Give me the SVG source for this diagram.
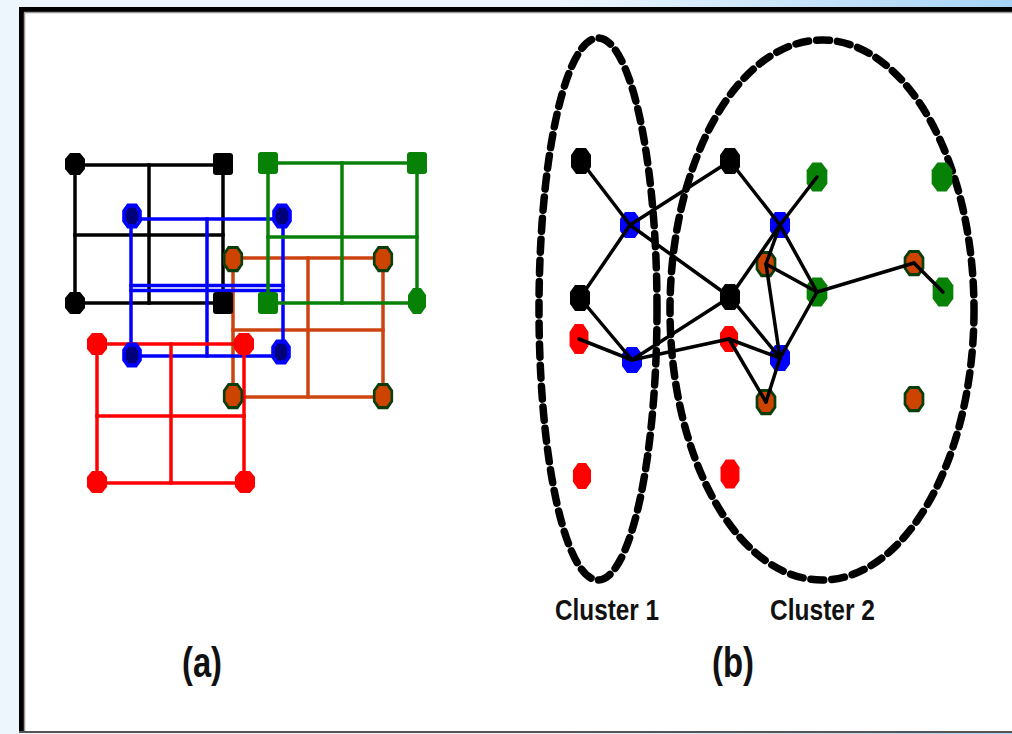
<svg xmlns="http://www.w3.org/2000/svg" xmlns:xlink="http://www.w3.org/1999/xlink" width="1012" height="734" viewBox="0 0 1012 734">
<defs>
<linearGradient id="bg" x1="0" y1="0" x2="1" y2="0">
<stop offset="0" stop-color="#eef6fd"/>
<stop offset="0.55" stop-color="#eef6fd"/>
<stop offset="1" stop-color="#a6d3f5"/>
</linearGradient>
<polygon id="octA" points="-5,-11 5,-11 10,-5 10,5 5,11 -5,11 -10,5 -10,-5"/>
<rect id="sqA" x="-10" y="-11" width="20" height="22" rx="3"/>
<polygon id="octT" points="-4,-13 4,-13 9,-6 9,6 4,13 -4,13 -9,6 -9,-6"/>
<polygon id="octB" points="-5,-13 5,-13 10,-6 10,6 5,13 -5,13 -10,6 -10,-6"/>
<style>
.g line{stroke-width:3.5;stroke-linecap:square;fill:none}
.gk line{stroke:#000}
.gb line{stroke:#0000ff}
.gg line{stroke:#088008}
.go line{stroke:#cc4411}
.gr line{stroke:#ff0000}
.nk{fill:#000}
.nbA{fill:#00007a;stroke:#0000ff;stroke-width:4.5}
.nb{fill:#0000ff}
.ng{fill:#078207}
.no{fill:#cc4400;stroke:#0b3d0b;stroke-width:3}
.nr{fill:#ff0000}
.edges line{stroke:#000;stroke-width:3.5;stroke-linecap:round}
.clu{fill:none;stroke:#000;stroke-width:7.5;stroke-dasharray:13 8;stroke-linecap:round}
.lbl{font-family:"Liberation Sans",Arial,sans-serif;font-weight:bold;fill:#111}
</style>
</defs>
<rect x="0" y="0" width="1012" height="734" fill="url(#bg)"/>
<rect x="19" y="7" width="993" height="726" fill="#fff"/>
<line x1="19" y1="9.5" x2="1012" y2="9.5" stroke="#000" stroke-width="5"/>
<line x1="21.5" y1="7" x2="21.5" y2="733" stroke="#000" stroke-width="5"/>
<line x1="24.5" y1="12.5" x2="1012" y2="12.5" stroke="#999" stroke-width="1.5"/>
<line x1="24.5" y1="12.5" x2="24.5" y2="731" stroke="#999" stroke-width="1.5"/>
<line x1="19" y1="732" x2="1012" y2="732" stroke="#555" stroke-width="2"/>

<!-- panel (a) grids -->
<g id="grid-black" class="g gk">
<line x1="75" y1="165" x2="223" y2="165"/><line x1="75" y1="303" x2="223" y2="303"/>
<line x1="75" y1="165" x2="75" y2="303"/><line x1="223" y1="165" x2="223" y2="303"/>
<line x1="149" y1="165" x2="149" y2="303"/><line x1="75" y1="235" x2="223" y2="235"/>
</g>
<g id="grid-orange" class="g go">
<line x1="233" y1="258" x2="383" y2="258"/><line x1="233" y1="397" x2="383" y2="397"/>
<line x1="233" y1="258" x2="233" y2="397"/><line x1="383" y1="258" x2="383" y2="397"/>
<line x1="308" y1="258" x2="308" y2="397"/><line x1="233" y1="330" x2="383" y2="330"/>
</g>
<g id="grid-blue" class="g gb">
<line x1="131" y1="219" x2="283" y2="219"/><line x1="131" y1="356" x2="283" y2="356"/>
<line x1="131" y1="219" x2="131" y2="356"/><line x1="283" y1="219" x2="283" y2="356"/>
<line x1="207" y1="219" x2="207" y2="356"/><line x1="131" y1="285.5" x2="283" y2="285.5"/>
<line x1="131" y1="290.5" x2="283" y2="290.5"/>
</g>
<g id="grid-green" class="g gg">
<line x1="268" y1="163" x2="417" y2="163"/><line x1="268" y1="303" x2="417" y2="303"/>
<line x1="268" y1="163" x2="268" y2="303"/><line x1="417" y1="163" x2="417" y2="303"/>
<line x1="342" y1="163" x2="342" y2="303"/><line x1="268" y1="237" x2="417" y2="237"/>
</g>
<g id="grid-red" class="g gr">
<line x1="97" y1="344" x2="244" y2="344"/><line x1="97" y1="483" x2="244" y2="483"/>
<line x1="97" y1="344" x2="97" y2="483"/><line x1="244" y1="344" x2="244" y2="483"/>
<line x1="171" y1="344" x2="171" y2="483"/><line x1="97" y1="416" x2="244" y2="416"/>
</g>
<g id="nodes-a">
<use xlink:href="#octA" x="75" y="164" class="nk"/>
<use xlink:href="#sqA" x="223" y="164" class="nk"/>
<use xlink:href="#octA" x="75" y="303" class="nk"/>
<use xlink:href="#sqA" x="223" y="303" class="nk"/>
<use xlink:href="#octA" x="132" y="216" class="nbA" transform="translate(132 216) scale(0.8 0.95) translate(-132 -216)"/>
<use xlink:href="#octA" x="282" y="216" class="nbA" transform="translate(282 216) scale(0.8 0.95) translate(-282 -216)"/>
<use xlink:href="#octA" x="132" y="355" class="nbA" transform="translate(132 355) scale(0.8 0.95) translate(-132 -355)"/>
<use xlink:href="#octA" x="281" y="352" class="nbA" transform="translate(281 352) scale(0.8 0.95) translate(-281 -352)"/>
<use xlink:href="#octA" x="233" y="259" class="no" transform="translate(233 259) scale(0.88 1.05) translate(-233 -259)"/>
<use xlink:href="#octA" x="383" y="259" class="no" transform="translate(383 259) scale(0.88 1.05) translate(-383 -259)"/>
<use xlink:href="#octA" x="233" y="396" class="no" transform="translate(233 396) scale(0.88 1.05) translate(-233 -396)"/>
<use xlink:href="#octA" x="383" y="396" class="no" transform="translate(383 396) scale(0.88 1.05) translate(-383 -396)"/>
<use xlink:href="#sqA" x="268" y="163" class="ng"/>
<use xlink:href="#sqA" x="417" y="163" class="ng"/>
<use xlink:href="#sqA" x="268" y="303" class="ng"/>
<use xlink:href="#octT" x="417" y="301" class="ng"/>
<use xlink:href="#octA" x="97" y="344" class="nr"/>
<use xlink:href="#octA" x="244" y="344" class="nr"/>
<use xlink:href="#octA" x="97" y="482" class="nr"/>
<use xlink:href="#octA" x="245" y="482" class="nr"/>
</g>

<!-- panel (b) -->
<g id="cluster-1"><ellipse class="clu" cx="598" cy="309" rx="59" ry="271"/></g>
<g id="cluster-2"><ellipse class="clu" cx="822" cy="310" rx="152" ry="270"/></g>
<g id="nodes-b">
<use xlink:href="#octB" x="581" y="161" class="nk"/>
<use xlink:href="#octB" x="580" y="298" class="nk"/>
<use xlink:href="#octB" x="730" y="161" class="nk"/>
<use xlink:href="#octB" x="730" y="297" class="nk"/>
<use xlink:href="#octB" x="630" y="225" class="nb"/>
<use xlink:href="#octB" x="632" y="360" class="nb"/>
<use xlink:href="#octB" x="780" y="225" class="nb"/>
<use xlink:href="#octB" x="780" y="358" class="nb"/>
<use xlink:href="#octT" x="579" y="339" class="nr" transform="translate(579 339) scale(1.05 1.15) translate(-579 -339)"/>
<use xlink:href="#octT" x="729" y="339" class="nr"/>
<use xlink:href="#octT" x="582" y="476" class="nr"/>
<use xlink:href="#octT" x="730" y="474" class="nr" transform="translate(730 474) scale(1.05 1.12) translate(-730 -474)"/>
<use xlink:href="#octT" x="817" y="177" class="ng" transform="translate(817 177) scale(1.15 1.12) translate(-817 -177)"/>
<use xlink:href="#octT" x="942" y="177" class="ng" transform="translate(942 177) scale(1.15 1.12) translate(-942 -177)"/>
<use xlink:href="#octT" x="817" y="292" class="ng" transform="translate(817 292) scale(1.15 1.12) translate(-817 -292)"/>
<use xlink:href="#octT" x="943" y="292" class="ng" transform="translate(943 292) scale(1.15 1.12) translate(-943 -292)"/>
<use xlink:href="#octA" x="766" y="264" class="no" transform="translate(766 264) scale(0.9 1.05) translate(-766 -264)"/>
<use xlink:href="#octA" x="914" y="263" class="no" transform="translate(914 263) scale(0.9 1.05) translate(-914 -263)"/>
<use xlink:href="#octA" x="766" y="402" class="no" transform="translate(766 402) scale(0.9 1.05) translate(-766 -402)"/>
<use xlink:href="#octA" x="914" y="399" class="no" transform="translate(914 399) scale(0.9 1.05) translate(-914 -399)"/>
</g>
<g id="connectors" class="edges">
<line x1="581" y1="161" x2="630" y2="225"/>
<line x1="630" y1="225" x2="730" y2="161"/>
<line x1="630" y1="225" x2="730" y2="297"/>
<line x1="630" y1="225" x2="580" y2="298"/>
<line x1="580" y1="298" x2="632" y2="360"/>
<line x1="579" y1="339" x2="632" y2="360"/>
<line x1="632" y1="360" x2="730" y2="297"/>
<line x1="632" y1="360" x2="729" y2="339"/>
<line x1="730" y1="161" x2="780" y2="225"/>
<line x1="780" y1="225" x2="817" y2="177"/>
<line x1="780" y1="225" x2="817" y2="292"/>
<line x1="780" y1="225" x2="730" y2="297"/>
<line x1="780" y1="225" x2="766" y2="264"/>
<line x1="766" y1="264" x2="780" y2="358"/>
<line x1="766" y1="264" x2="817" y2="292"/>
<line x1="817" y1="292" x2="914" y2="263"/>
<line x1="914" y1="263" x2="943" y2="292"/>
<line x1="730" y1="297" x2="780" y2="358"/>
<line x1="817" y1="292" x2="780" y2="358"/>
<line x1="729" y1="339" x2="780" y2="358"/>
<line x1="729" y1="339" x2="766" y2="402"/>
<line x1="780" y1="358" x2="766" y2="402"/>
</g>
<g id="labels" class="lbl">
<text x="555" y="620" font-size="29" textLength="104" lengthAdjust="spacingAndGlyphs">Cluster 1</text>
<text x="770" y="620" font-size="29" textLength="105" lengthAdjust="spacingAndGlyphs">Cluster 2</text>
<text x="182" y="677" font-size="42" textLength="40" lengthAdjust="spacingAndGlyphs">(a)</text>
<text x="712" y="677" font-size="42" textLength="42" lengthAdjust="spacingAndGlyphs">(b)</text>
</g>
</svg>
